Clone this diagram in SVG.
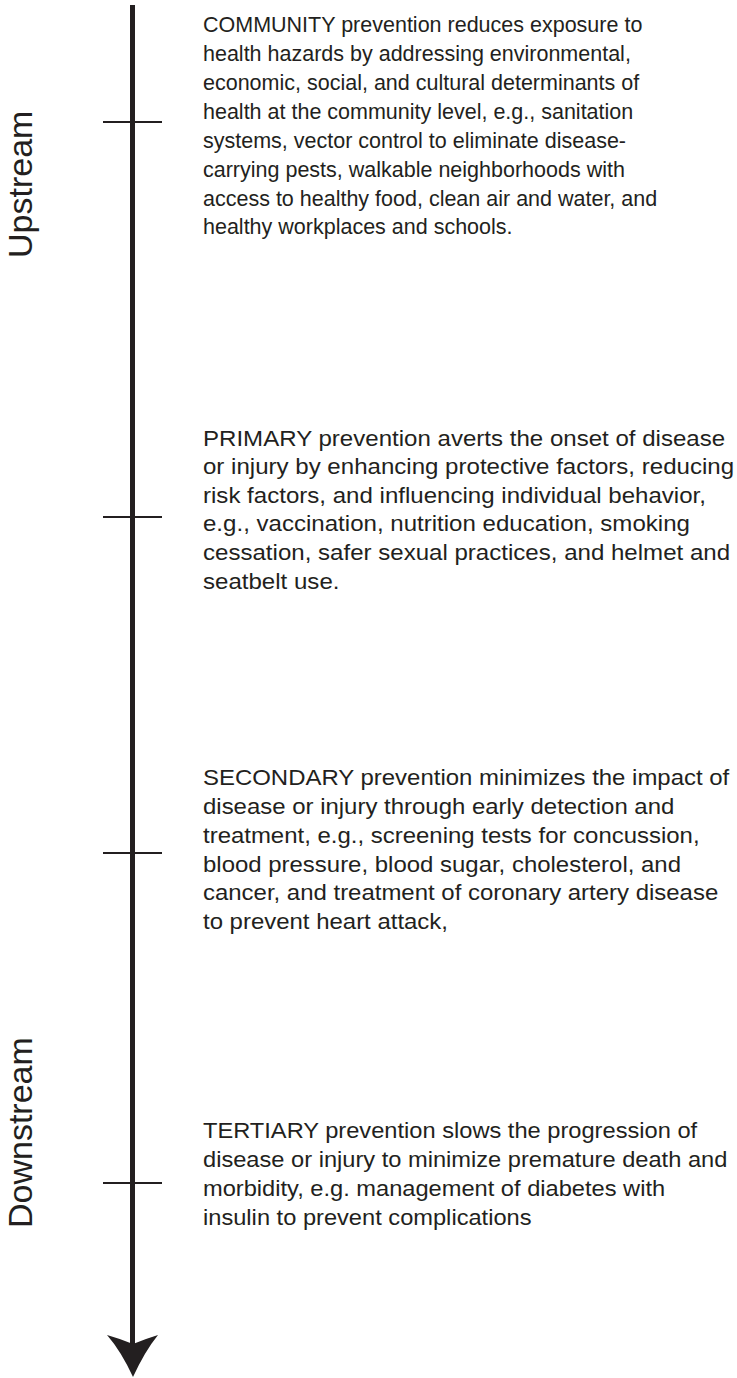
<svg xmlns="http://www.w3.org/2000/svg" width="737" height="1378" viewBox="0 0 737 1378">
<style>
.t{font-family:"Liberation Sans",Arial,Helvetica,sans-serif;font-size:21.5px;fill:#231f20}
.side{font-family:"Liberation Sans",Arial,Helvetica,sans-serif;font-size:34px;fill:#231f20}
.tick{stroke:#231f20;stroke-width:2}
.axis{stroke:#231f20;stroke-width:5}
</style>
<rect width="737" height="1378" fill="#fff"/>
<g id="connectors">
<line class="axis" x1="132.5" y1="5" x2="132.5" y2="1345"/>
<path d="M133,1377 Q121,1351 107,1335 Q121,1339 133,1344 Q145,1339 158,1335 Q145,1351 133,1377 Z" fill="#231f20"/>
<line class="tick" x1="103" y1="122" x2="162" y2="122"/>
<line class="tick" x1="103" y1="517" x2="162" y2="517"/>
<line class="tick" x1="103" y1="853" x2="162" y2="853"/>
<line class="tick" x1="103" y1="1183" x2="162" y2="1183"/>
</g>
<g id="upstream"><text class="side" transform="translate(32,258) rotate(-90)">Upstream</text></g>
<g id="downstream"><text class="side" transform="translate(32,1228) rotate(-90)">Downstream</text></g>
<g id="community">
<text class="t" x="203" y="32">COMMUNITY prevention reduces exposure to</text>
<text class="t" x="203" y="61">health hazards by addressing environmental,</text>
<text class="t" x="203" y="90">economic, social, and cultural determinants of</text>
<text class="t" x="203" y="119">health at the community level, e.g., sanitation</text>
<text class="t" x="203" y="148">systems, vector control to eliminate disease-</text>
<text class="t" x="203" y="176.5">carrying pests, walkable neighborhoods with</text>
<text class="t" x="203" y="205.5">access to healthy food, clean air and water, and</text>
<text class="t" x="203" y="234">healthy workplaces and schools.</text>
</g>
<g id="primary" transform="translate(203,0) scale(1.12,1) translate(-203,0)">
<text class="t" x="203" y="446">PRIMARY prevention averts the onset of disease</text>
<text class="t" x="203" y="474.5">or injury by enhancing protective factors, reducing</text>
<text class="t" x="203" y="503">risk factors, and influencing individual behavior,</text>
<text class="t" x="203" y="531.5">e.g., vaccination, nutrition education, smoking</text>
<text class="t" x="203" y="560">cessation, safer sexual practices, and helmet and</text>
<text class="t" x="203" y="589">seatbelt use.</text>
</g>
<g id="secondary" transform="translate(203,0) scale(1.115,1) translate(-203,0)">
<text class="t" x="203" y="785">SECONDARY prevention minimizes the impact of</text>
<text class="t" x="203" y="814">disease or injury through early detection and</text>
<text class="t" x="203" y="843">treatment, e.g., screening tests for concussion,</text>
<text class="t" x="203" y="872">blood pressure, blood sugar, cholesterol, and</text>
<text class="t" x="203" y="900.5">cancer, and treatment of coronary artery disease</text>
<text class="t" x="203" y="929">to prevent heart attack,</text>
</g>
<g id="tertiary" transform="translate(203,0) scale(1.1,1) translate(-203,0)">
<text class="t" x="203" y="1138">TERTIARY prevention slows the progression of</text>
<text class="t" x="203" y="1167">disease or injury to minimize premature death and</text>
<text class="t" x="203" y="1196">morbidity, e.g. management of diabetes with</text>
<text class="t" x="203" y="1225">insulin to prevent complications</text>
</g>
</svg>
